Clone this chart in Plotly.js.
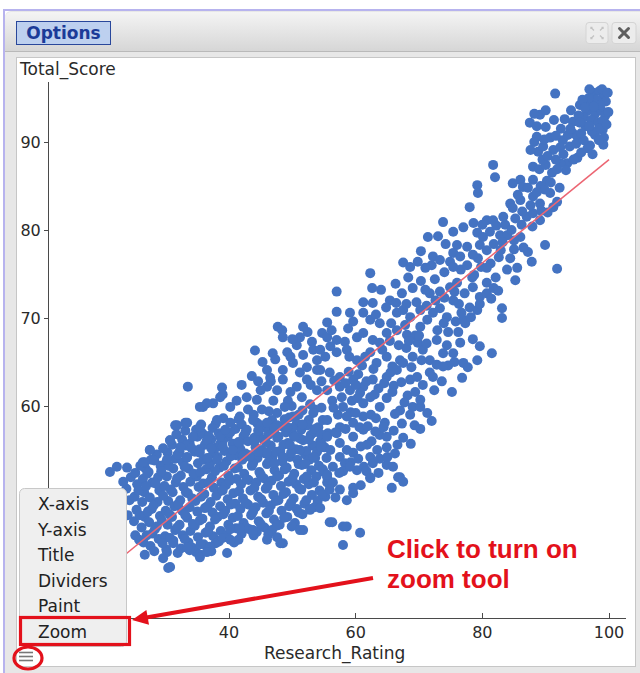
<!DOCTYPE html>
<html>
<head>
<meta charset="utf-8">
<script src="https://cdn.plot.ly/plotly-3.0.1.min.js"></script>
<style>
  html, body { margin:0; padding:0; width:640px; height:673px; overflow:hidden; background:#ffffff; }
  #frameTop { position:absolute; left:3px; top:9px; width:637px; height:2px; background:#b7b3ee; }
  #frameLeft { position:absolute; left:3px; top:9px; width:2px; height:664px; background:#b7b3ee; }
  #win { position:absolute; left:5px; top:11px; width:635px; height:662px; background:#e7e7e7; border-top-left-radius:6px; }
  #hdr { position:absolute; left:5px; top:12px; width:635px; height:39px; background:linear-gradient(#f4f4f4,#d6d6d6); border-bottom:1px solid #b9b9b9; border-top-left-radius:6px; }
  #opt { position:absolute; left:16px; top:21px; width:93px; height:22px; background:#bdd0ef; border:1.5px solid #29479b;
         font:bold 17px "DejaVu Sans", Verdana, sans-serif; color:#1b3b98; line-height:22px; text-align:center; }
  #panel { position:absolute; left:16px; top:57px; width:618px; height:608px; background:#ffffff; border:1px solid #c6c6c6; }
  #chart { position:absolute; left:16px; top:57px; width:620px; height:610px; }
  #over { position:absolute; left:0; top:0; width:640px; height:673px; pointer-events:none; }
</style>
</head>
<body>
<div id="win"></div>
<div id="frameTop"></div>
<div id="frameLeft"></div>
<div id="hdr"></div>
<div id="opt">Options</div>
<div id="panel"></div>
<div id="chart"></div>
<svg id="over" xmlns="http://www.w3.org/2000/svg" width="640" height="673">
  <rect x="586" y="22.5" width="22" height="21" rx="3" fill="#ececec" stroke="#d4d4d4"/>
  <g stroke="#c2c2c2" stroke-width="1.3" fill="none">
    <path d="M591 29 L591 27.5 L592.5 27.5 M591 27.5 L594 30.5"/>
    <path d="M603 29 L603 27.5 L601.5 27.5 M603 27.5 L600 30.5"/>
    <path d="M591 37 L591 38.5 L592.5 38.5 M591 38.5 L594 35.5"/>
    <path d="M603 37 L603 38.5 L601.5 38.5 M603 38.5 L600 35.5"/>
  </g>
  <rect x="612" y="22.5" width="24" height="21" rx="3" fill="#ececec" stroke="#d4d4d4"/>
  <g stroke="#5e5e5e" stroke-width="3" stroke-linecap="round">
    <line x1="619.5" y1="28.5" x2="628.5" y2="37.5"/>
    <line x1="628.5" y1="28.5" x2="619.5" y2="37.5"/>
  </g>
  <rect x="19.5" y="488.5" width="107" height="158" rx="5" fill="#efefef" stroke="#c8c8c8"/>
  <g font-family="DejaVu Sans, Verdana, sans-serif" font-size="17" fill="#222">
    <text x="38" y="510">X-axis</text>
    <text x="38" y="535.6">Y-axis</text>
    <text x="38" y="561.2">Title</text>
    <text x="38" y="586.8">Dividers</text>
    <text x="38" y="612.4">Paint</text>
    <text x="38" y="638">Zoom</text>
  </g>
  <g stroke="#777" stroke-width="1.6">
    <line x1="19" y1="652.5" x2="33" y2="652.5"/>
    <line x1="19" y1="656.5" x2="33" y2="656.5"/>
    <line x1="19" y1="660.5" x2="33" y2="660.5"/>
  </g>
  <g stroke="#e3111b" fill="none" stroke-width="3.2">
    <rect x="20.5" y="617.5" width="109" height="27"/>
    <ellipse cx="28" cy="658" rx="14" ry="11"/>
    <line x1="373" y1="578" x2="145" y2="617.7" stroke-width="4"/>
  </g>
  <polygon points="132,620 149,624.8 146.4,610" fill="#e3111b"/>
  <g font-family="Liberation Sans, Arial, Helvetica, sans-serif" font-weight="bold" font-size="26" fill="#e3111b">
    <text x="387" y="558">Click to turn on</text>
    <text x="387" y="588">zoom tool</text>
  </g>
</svg>
<script>
// Research_Rating vs Total_Score (estimated)
const cluster_top = [
[91.5,95.5],[97.5,95.6],[98.5,95.8],[99.2,95.2],[98,94.8],[99.5,94.6],[97,94.3],[96.5,93.5],[97.8,93.2],[98.8,93.6],
[99.4,93],[96,92.8],[97.2,92.5],[98.3,92.2],[99,92.4],[95.4,94.2],[94.3,92.3],[95.2,93],[96.3,91.8],[87.5,92.2],
[89.1,93.1],[88.6,91.8],[99,91.4],[99.2,90.5],[99.1,89.7],[97,89.6],[96.6,89.3],[88.6,90.6],[90.7,90.5],[92.7,90.2],
[94.3,91],[93.5,90.8],[95,90.6],[88.8,88.9],[91.2,89.1],[92.3,89.4],[88,87.2],[89,86.9],[90,87.4],[91,86.5],
[89.5,88],[95,88.2],[93.4,87.6],[92.3,87.6],[81.7,87.4],[82,86],[86,85.7],[86.4,84.9],[84.8,85.3],[79.2,85.1],
[79.3,84.2],[88,85.7],[89.2,85],[90.7,84.2],[89.8,84.6],[84.4,83],[84.8,82.5],[86,83.4],[88,83.8],[89.1,83],
[91.2,82.6],[91.8,83.2],[78,82.6],[80.7,81.1],[81.7,81.1],[87,81.5],[88,81.9],[89.1,81.1],[73.8,80.9],[77,80.3],
[79.2,79.7],[80.1,79.2],[81.2,79.8],[82.8,79.4],[83.9,79.4],[86,79.2],[71.4,79.2],[73,79.3],[75.4,79.8],[89.9,78.3],
[76,78.3],[77.6,78.1],[79.6,78.3],[80.7,77.7],[87.2,77.5],[87.8,76.4],[67.5,76.3],[68.6,75.8],[72.2,77],[73.3,76.6],
[75.4,77.4],[76.5,77],[91.8,75.6],[62.3,75.1],[75.4,75.8],[77.6,76],[80.7,75.7],[83.9,75.5],[85.5,75.7],
[93,92.6],[93.8,89.5],[94.8,89.8],[96,90.2],[97.8,90.8],[98.4,91.5],[99.6,92],[96.8,95],[98.9,96],[97.3,91.2],
[95.6,91],[90,91.7],[88.2,90],[89.6,89.5],[90.3,88.4],[91.6,88],[92.8,88.6],[90.2,85.6],[88.6,84.3],[87.2,84.8],
[85.6,84],[87.6,82.8],[90.3,82],[86.3,82.1],[85.2,81.3],[83.6,80.6],[84.6,80],[82.2,80.5],[78.6,80.8],[80,80.6],
[83.2,78.6],[81.8,78.4],[85,77.8],[78.5,77.2],[74.2,78.4],[70.3,77.6],[69.8,76.4],[71,75.7],[74,75.2],[78.7,74.9],
[82.6,76.9],[84.4,76.8],[82.1,74.6],[85.2,74.3]
];
const top_fill = [
[94,93.6],[95.8,94.8],[96.9,96],[99.8,95.6],[98.6,94.2],[96.2,93.9],[97.6,94],[99.9,93.4],[95.4,92.2],[96.9,91.8],
[98.4,90.2],[97.4,88.6],[95.6,88.8],[94.4,88],[93.2,86.8],[91.8,86.9],[90.8,85.4],[92.2,84.8],[89.3,82.2],[87.9,80.4],
[86.2,80.6],[85,78.8],[86.5,78],[83.3,81.5],[88.2,93.2],[90,93.6],[91.3,92.5],[92.4,91.5],[93.9,91.5],[89.8,90.3],
[91.6,90.7],[87.6,89.1]
];
const cluster_mid = [
[57,73],[61.2,71.8],[62.7,71.7],[65.4,72],[67.3,72.8],[69,73.4],[71.7,72.8],[73.3,73],[74.9,73.5],[76,74],
[78.5,73.5],[80.7,74],[79.6,72.4],[80.7,72.8],[79.2,70.9],[83.1,71.1],[83.1,70],
[57,70.7],[59.1,70.6],[55.5,69.5],[61.2,70.6],[62.3,69.8],[63.8,69.4],[66.5,70.6],[67.5,70.9],[68.6,70.1],[70.2,70.9],
[72.2,70.6],[73.3,71.1],[74.4,70.1],[77,69.8],[77.3,69.4],
[55.5,67.8],[57,67.5],[58.3,67.3],[60.2,67.8],[61.2,68.3],[62.7,67.5],[64.9,68.3],[66.5,68.6],[68.1,68.1],[70.2,69],
[71.3,69.8],[72.8,67.5],[74.4,66.9],[76.5,67.2],[75.4,66],[73.8,66],
[55.2,65.6],[57,66.1],[58.6,66.4],[60.2,65.2],[62.3,66.1],[63.8,67.2],[64.9,65.6],[67,65.2],[69,65.6],[70.6,66.4],
[71.7,65.2],[72.8,64.7],[77,64.9],[77.7,64.4],[79.2,65.2],[81.5,66],
[54.4,64.1],[55.9,63.8],[57.5,63.3],[59.6,63],[61.2,62.2],[62.7,63],[64.9,63.3],[66.5,64.1],[67.5,64.9],[68.6,63],
[69.7,63.3],[71.7,63.8],[72.2,63.3],[75.2,61.6],
[55.5,61.8],[57.5,62.2],[59.1,61.8],[60.7,61.5],[62.3,61],[64.9,60.9],[67,59.5],[69,59.9],[70.2,59.9],[71.3,59.2],[70.2,60.7],
[58,59.9],[61.2,60.3],[63.8,59.9],[61.2,58.8],[59.6,58.1],[57.5,57.6],[55.5,58.4],
[61.2,57.3],[63.8,56.7],[64.9,56.5],[67.5,56.4],[64.9,55.3],
[55.5,56.5],[57.5,55.8],[59.6,56.5],[58.6,55],[57.5,54.2],[59.6,54.7],[62.3,54.2],[63.4,55],[62.7,53.5],[64.9,53.3],
[65.9,53.1],[67,51.9],[62.3,51.9],[60.2,52.7],[56.4,53.1],[55.5,51.9],
[56.2,68.6],[58.8,68.8],[59.6,69.6],[63.2,70.4],[65.6,69.4],[67.8,69.2],[69.4,68],[56,66.8],[59,65.6],[61,64.6],
[63.3,64.9],[65.8,64.5],[68,66.6],[69.8,67.2],[56.6,62.9],[58.4,62.6],[60.4,63.6],[63.6,62],[66,62.3],[56.3,60.6],
[57.2,59],[59.4,60.6],[62.4,59],[65.8,61.6],[68.2,61.2],[56.8,57],[58.4,57.4],[60.6,57.6],[62.5,56],[56,55],
[60.8,55.4],[58.3,53.5],[61.3,53.1],[63.8,54],[66.2,54.6],[74.6,68.4],[76.3,71.6],[78,71.2],[81.8,73.4],[72.5,74.4],
[70.3,74.2],[75.4,72],[66.3,73.9],[68,71.6],[64,73.2],[73.6,62.8],[76.8,63.2],[74.6,64.6],[69.3,57.8],[72,58.3]
];
const mid_fill = [
[56.5,59.8],[57.8,61],[58.9,63.9],[60,62.4],[61.5,65.6],[62.8,64.2],[64.2,66.4],[65.4,67.4],[66.8,66.9],[68.4,67.4],
[70,68],[71.2,71.4],[72.6,72],[74,72.3],[75.6,73],[77.2,72.8],[78.4,74.6],[79.8,75.8],[81.3,76.2],[82.9,77.7],
[59.2,59.3],[60.3,60.9],[61.7,62.8],[63,61.3],[64.5,62.6],[65.5,63.8],[67.2,62.7],[68.8,64.4],[70.4,65.2],[71.2,67.1],
[72.9,68.6],[73.9,69.4],[75.8,69.6],[76.7,70.6],[78.2,70.1],[79.6,71.6],[81.4,72.2],[82.5,73.1],
[57,56.9],[58.6,58.8],[60,59.2],[61.9,57.7],[63.2,58.6],[64.6,58.1],[66.2,59.1],[67.7,60.4],[69.4,61.6],[70.6,62.4],
[72.4,61.8],[73.8,64.5],[75.6,65],[76.2,68.4],[78.5,67.6],[79.6,66.8],
[58,52.6],[59.2,53.6],[60.4,54],[61.8,55.6],[63.1,57.1],[64.4,57.6],[66,57.2],[67.3,58],[68.6,59],
[56.8,49.6],[57.4,52.4],[60.8,51],[61.7,52.6],[63.6,52.4],[65,54.2],[66.6,55.6],[68.7,55.7],[70.2,57.4],
[62.6,73.4],[64.8,71.2],[66.4,71.7],[69.6,71.8],[71,73.2],[68.3,74.6],[72,76],[76.6,75.5],[74.9,76.4],[79.3,76.8]
];
const cluster_left = [
[47.7,69],[48.4,68.6],[48.5,67.8],[51.7,69],[53.1,67.3],[50.7,66.9],[49.2,66.1],[46.9,66],[44.1,66.3],[33.5,62.2],
[38.9,62.1],[38.6,61],[39,61.3],[46,64.1],[46.5,63.2],[48.5,64.1],[51.2,63.8],[53.9,65.2],[53.3,66.4],[50.1,64.9],
[52.3,64.4],[53.9,64.1],
[35.9,59.9],[37.5,60.3],[40.2,59.9],[42.8,61],[44.4,60.7],[46,62.2],[47.6,61.8],[48.5,63],[50.7,62.2],[52.3,63],[53.9,61.8],
[35.4,57.6],[38.1,58.4],[40.2,58.1],[41.7,58.8],[43.8,58.4],[46,58.1],[47.6,59.2],[50.1,58.8],[53.3,59.2],
[31.5,57.8],[33.1,58.1],[30.7,56.1],[32.3,55.3],[34.3,56.5],[36.5,56.1],[38.6,56.5],
[27.5,55],[26.7,53.6],[30.2,53.9],[33.4,54.2],[35.4,54.7],
[21.2,52.5],[22.3,53.1],[23.9,53],[38.1,53.9],[40.6,55],[43.3,54.2],[46,54.7],[48.5,54.2],[51.2,55],[53.3,54.2],
[42,62.4],[43.6,63.4],[45,61.8],[47,60.6],[49.3,60.6],[51.5,61],[52.8,60.2],[54.6,59.8],[41.2,60.6],[43,59.6],
[45.2,59.6],[48.8,59.9],[51.6,59.5],[44.6,57.2],[47.2,57.5],[49.2,57.6],[51.6,57.9],[53.6,57.4],[39.4,57.3],[42.6,57],
[41.5,55.9],[44,56],[45.8,55.9],[47.6,56.4],[50.3,56.5],[52.6,56.2],[54.5,56.8],[37.2,55.2],[39,55.4],[42.2,54.4],
[44.6,54.8],[47.2,53.5],[49.6,55.6],[52,53.4],[54.6,55.3],[45.3,65],[47.3,65.3],[49.7,65.6],[51.7,65.8],[54.4,66.4],
[44.6,62.8],[46.6,62.8],[49.7,61.6],[52.9,62.4],[54.6,62.8],[51.2,67.8],[52.4,68.4],[54.7,68.3],[50,67.6]
];
const cluster_core = [
[24,47.6],[24.3,49.3],[23.8,50.6],[24.5,51.9],
[25.2,45.3],[25,46.9],[25.4,48.2],[25.1,49.7],[25.5,51.1],[25.2,52.4],
[26.5,44.5],[26.2,46.2],[26.7,47.4],[26.3,49.1],[26.6,50.2],[26.4,51.7],[26.8,52.9],
[27.6,44.1],[27.9,45.5],[27.4,46.8],[27.8,48.3],[27.5,49.6],[27.9,51.3],[27.3,52.5],[27.7,53.9],
[28.9,44.9],[28.6,46.3],[29.1,47.5],[28.7,49.1],[29,50.4],[28.8,51.9],[29.2,53.2],[28.6,54.5],
[30.1,43.7],[29.9,45.2],[30.3,46.5],[30,48.1],[30.4,49.2],[29.8,50.9],[30.2,52],[30,53.5],[30.3,54.7],
[31.2,44.7],[31.5,45.9],[31,47.4],[31.4,48.6],[31.1,50.2],[31.6,51.3],[31.2,52.9],[31.5,54],[31,55.6],
[32.4,43.8],[32.7,45.3],[32.2,46.5],[32.6,48.1],[32.3,49.3],[32.8,50.8],[32.4,52.1],[32.7,53.6],[32.2,54.8],[32.6,56.2],
[33.6,44.5],[33.9,45.8],[33.4,47.3],[33.8,48.5],[33.5,50.1],[33.9,51.4],[33.6,52.9],[33.3,54.1],[33.8,55.7],
[34.8,43.4],[35.1,45.1],[34.6,46.4],[35,48],[34.7,49.2],[35.2,50.8],[34.9,52],[35.1,53.5],[34.6,54.8],[35,56.5],[34.8,57.3],
[36,44.3],[36.3,45.6],[35.8,47.2],[36.2,48.4],[36.1,50],[35.9,51.2],[36.4,52.8],[36,53.9],[36.2,55.6],[35.8,56.9],
[37.2,43.5],[37.5,45.2],[37,46.3],[37.4,47.9],[37.1,49.1],[37.6,50.7],[37.3,51.9],[37,53.4],[37.5,54.6],[37.2,56.2],[37.4,57.5],
[38.4,44.6],[38.7,45.8],[38.2,47.4],[38.6,48.6],[38.3,50.2],[38.8,51.3],[38.5,53],[38.2,54.2],[38.7,55.8],[38.4,56.9],
[39.6,45.3],[39.9,46.5],[39.4,48.1],[39.8,49.4],[39.5,51],[39.9,52.1],[39.6,53.7],[39.3,54.9],[39.8,56.5],
[40.8,44.5],[41.1,46.1],[40.6,47.3],[41,48.9],[40.7,50.1],[41.2,51.7],[40.9,52.9],[41.1,54.4],[40.6,55.7],[41,57.4],
[42,45.5],[42.3,46.7],[41.8,48.3],[42.2,49.5],[41.9,51.1],[42.4,52.3],[42.1,53.9],[41.8,55.1],[42.3,56.6],[42,57.9],
[43.2,46],[43.5,47.6],[43,48.8],[43.4,50.4],[43.1,51.6],[43.6,53.2],[43.3,54.4],[43,56],
[44.4,45.7],[44.7,46.9],[44.2,48.5],[44.6,49.7],[44.3,51.3],[44.8,52.5],[44.5,54.1],[44.2,55.3],[44.7,56.9],[44.4,58.1],
[45.6,46.2],[45.9,47.8],[45.4,49],[45.8,50.6],[45.5,51.8],[46,53.4],[45.7,54.6],[45.4,56.2],[45.9,57.5],
[46.8,45.9],[47.1,47.1],[46.6,48.7],[47,49.9],[46.7,51.5],[47.2,52.7],[46.9,54.3],[46.6,55.5],[47.1,57.1],[46.8,58.4],
[48,46.5],[48.3,48.1],[47.8,49.3],[48.2,50.9],[47.9,52.1],[48.4,53.7],[48.1,54.9],[47.8,56.5],[48.3,57.7],
[49.2,47.4],[49.5,48.6],[49,50.2],[49.4,51.4],[49.1,53],[49.6,54.2],[49.3,55.8],[49,57],[49.5,58.7],
[50.4,46.7],[50.7,48.3],[50.2,49.5],[50.6,51.1],[50.3,52.3],[50.8,53.9],[50.5,55.1],[50.2,56.7],[50.7,58],
[51.6,47.7],[51.9,48.9],[51.4,50.5],[51.8,51.7],[51.5,53.3],[52,54.5],[51.7,56.1],[51.4,57.3],
[52.8,48.3],[53.1,49.9],[52.6,51.1],[53,52.7],[52.7,53.9],[53.2,55.5],[52.9,56.7],[52.6,58.4],
[54,49.2],[54.3,50.4],[53.8,52],[54.2,53.2],[53.9,54.8],[54.4,56],[54.1,57.6],
[55.2,49.7],[55.5,51.3],[55,52.5],[55.4,54.1],[55.1,55.3],[55.6,56.9]
];
const core_fill = [
[25.8,44.8],[25.9,47.6],[25.7,50.4],[26,53.2],
[27,45.3],[27.2,48],[26.9,50.9],[27.1,52.3],
[28.2,43.5],[28.3,46],[28.1,48.7],[28.4,51.2],[28.2,53.8],
[29.5,44.4],[29.4,47],[29.6,49.8],[29.3,52.6],[29.6,55.2],
[30.7,45],[30.6,47.7],[30.8,50.5],[30.5,53.2],
[31.9,43.3],[31.8,46.2],[32,48.9],[31.8,51.8],[31.9,54.5],[31.7,56.8],
[33,44.9],[33.1,47.6],[33.2,50.2],[33,53.1],[33.2,55.5],[33.1,57.2],
[34.2,43.9],[34.3,46.6],[34.2,49.5],[34.4,52.3],[34.1,55.2],
[35.5,44.3],[35.4,47],[35.6,49.7],[35.5,52.5],[35.4,55.1],[35.6,57.9],
[36.7,45.8],[36.6,48.6],[36.8,51.3],[36.6,54.1],[36.8,56.6],
[37.9,44.4],[37.8,47.1],[38,49.8],[37.8,52.6],[38,55.3],[37.9,58],
[39,45],[39.1,47.7],[39,50.4],[39.2,53.2],[39,56],[39.1,58.6],
[40.2,46],[40.3,48.8],[40.1,51.5],[40.3,54.3],[40.2,57],
[41.5,44.8],[41.4,47.5],[41.6,50.3],[41.4,53],[41.6,55.8],[41.5,58.5],
[42.7,46.2],[42.6,49],[42.8,51.7],[42.6,54.6],[42.8,57.3],
[43.9,45.3],[43.8,48],[44,50.7],[43.8,53.5],[44,56.4],[43.9,59],
[45,46.6],[45.1,49.4],[45,52.2],[45.2,55],[45,57.8],
[46.2,45.4],[46.3,48.1],[46.1,50.9],[46.3,53.7],[46.2,56.7],[46.3,59.4],
[47.5,46.4],[47.4,49.2],[47.6,52],[47.4,54.8],[47.6,57.8],
[48.7,47.3],[48.6,50],[48.8,52.8],[48.6,55.6],[48.8,58.5],
[49.9,46.3],[49.8,49],[50,51.8],[49.8,54.7],[50,57.5],[49.9,60],
[51,47.9],[51.1,50.6],[51,53.4],[51.2,56.3],[51,59],
[52.2,49.3],[52.3,52],[52.2,54.9],[52.4,57.8],
[53.5,48.5],[53.4,51.3],[53.6,54.1],[53.4,57],[53.5,59.6],
[54.7,50],[54.8,52.8],[54.6,55.7],[54.8,58.4]
];
const cluster_low = [
[23.3,51.4],[26.4,53.6],[27.5,55],[30.7,56.1],[31.8,57.8],[33.4,58.1],[35.4,59.9],[36.5,60.3],
[26.7,43.1],[30.2,43.4],[30.7,41.7],[33.8,43.6],[35.4,43.1],[37,44],[39.7,43.3],[40.2,44.8],[43.8,45.6],[47.6,45.1],
[48.5,44.4],[51.7,45.9],[54.4,48.4],[55.9,46.8],[58,44.2],[58,46.3],[59.1,53.1],
[30.4,41.6],[29.6,42.7],[35.4,42.8],[36.5,43.4],[33.4,43.9],[31.2,44.4],[41.7,46.1],[43.8,45.9],[46,44.8],
[48.1,44.4],[51.2,45.9],[52.8,48.2],
[55.5,52.2],[56.4,51.3],[55.9,50.5],[57.5,50.5],[58.6,49.3],[59.6,50.7],[59.6,50.1],[62.3,51.8],[65.7,50.7],[66.7,51.9],
[67.5,51.4],[56.3,46.8],[58.6,46.3],[60.7,45.6]
];
const trend_x = [20, 100];
const trend_y = [41.0, 88.0];
const x_ticks = [40, 60, 80, 100];
const y_ticks = [60, 70, 80, 90];

const allPts = [].concat(cluster_core, core_fill, cluster_left, cluster_mid, mid_fill, cluster_top, top_fill, cluster_low);
const xs = allPts.map(p => p[0]);
const ys = allPts.map(p => p[1]);

const traces = [
  { type:'scatter', mode:'markers', x: xs, y: ys,
    marker:{ size:10, color:'#4473c2', line:{width:0} }, hoverinfo:'skip' },
  { type:'scatter', mode:'lines', x: trend_x, y: trend_y,
    line:{ color:'#ec6572', width:1.5 }, hoverinfo:'skip' }
];

const layout = {
  width:620, height:610,
  margin:{ l:33, r:10, t:25, b:49 },
  paper_bgcolor:'rgba(0,0,0,0)', plot_bgcolor:'rgba(0,0,0,0)',
  showlegend:false,
  font:{ family:'DejaVu Sans, Verdana, sans-serif', size:16, color:'#2a2a2a' },
  xaxis:{ range:[11.58, 102.68], tickvals:x_ticks, ticktext:x_ticks.map(String),
    showgrid:false, zeroline:false, showline:true, linecolor:'#4a4a4a', linewidth:1,
    ticks:'inside', ticklen:5, tickcolor:'#4a4a4a', tickfont:{size:16} },
  yaxis:{ range:[35.91, 96.82], tickvals:y_ticks, ticktext:y_ticks.map(String),
    showgrid:false, zeroline:false, showline:true, linecolor:'#4a4a4a', linewidth:1,
    ticks:'outside', ticklen:4, tickcolor:'#4a4a4a', tickfont:{size:16} },
  annotations:[
    { text:'Total_Score', xref:'paper', yref:'paper', x:0, y:1, xanchor:'left', yanchor:'middle',
      xshift:-32, yshift:12.5, showarrow:false, font:{size:17, color:'#2a2a2a'} },
    { text:'Research_Rating', xref:'paper', yref:'paper', x:0.4948, y:0, xanchor:'center', yanchor:'middle',
      yshift:-35, showarrow:false, font:{size:17, color:'#2a2a2a'} }
  ]
};

Plotly.newPlot('chart', traces, layout, { staticPlot:true, displayModeBar:false });
</script>
</body>
</html>
